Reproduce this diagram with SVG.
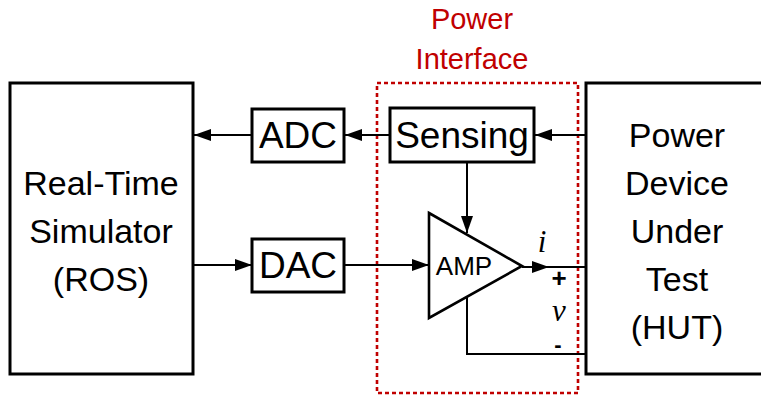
<svg xmlns="http://www.w3.org/2000/svg" width="761" height="396" viewBox="0 0 761 396">
<defs>
<marker id="ah" markerUnits="userSpaceOnUse" markerWidth="18" markerHeight="12" refX="17" refY="6" orient="auto">
<path d="M0,0 L17,6 L0,12 Z" fill="#000"/>
</marker>
<style>
.box{fill:#fff;stroke:#000;stroke-width:3}
.ln{fill:none;stroke:#000;stroke-width:2}
.t{font-family:"Liberation Sans",Arial,sans-serif;fill:#000;text-anchor:middle}
.big{font-size:37px}
.mid{font-size:34px}
.red{font-size:29px;fill:#C00000}
.it{font-family:"Liberation Serif","Times New Roman",serif;font-style:italic;font-size:31px;fill:#000;text-anchor:middle}
</style>
</defs>
<rect width="761" height="396" fill="#fff"/>
<g id="power-interface">
<rect x="377" y="83" width="201" height="310" fill="none" stroke="#C00000" stroke-width="2.6" stroke-dasharray="4 3"/>
<text class="t red" x="472" y="29">Power</text>
<text class="t red" x="472" y="69">Interface</text>
</g>
<g id="rts">
<rect class="box" x="10" y="83" width="183" height="291"/>
<text class="t mid" x="101" y="195">Real-Time</text>
<text class="t mid" x="101" y="243">Simulator</text>
<text class="t mid" x="101" y="291">(ROS)</text>
</g>
<g id="hut">
<rect class="box" x="586" y="83" width="190" height="291"/>
<text class="t mid" x="677" y="147">Power</text>
<text class="t mid" x="677" y="195">Device</text>
<text class="t mid" x="677" y="243">Under</text>
<text class="t mid" x="677" y="291">Test</text>
<text class="t mid" x="677" y="339">(HUT)</text>
</g>
<g id="connectors">
<line class="ln" x1="252" y1="135" x2="194" y2="135" marker-end="url(#ah)"/>
<line class="ln" x1="390" y1="135" x2="345" y2="135" marker-end="url(#ah)"/>
<line class="ln" x1="586" y1="135" x2="535" y2="135" marker-end="url(#ah)"/>
<line class="ln" x1="193" y1="265" x2="252" y2="265" marker-end="url(#ah)"/>
<line class="ln" x1="344" y1="265" x2="429" y2="265" marker-end="url(#ah)"/>
<line class="ln" x1="467" y1="162" x2="467" y2="233" marker-end="url(#ah)"/>
<line class="ln" x1="522" y1="267" x2="549" y2="267" marker-end="url(#ah)"/>
<line class="ln" x1="540" y1="267" x2="586" y2="267"/>
<polyline class="ln" points="467,297 467,354 586,354"/>
</g>
<g id="adc">
<rect class="box" x="252" y="109" width="92" height="53"/>
<text class="t big" x="298" y="148">ADC</text>
</g>
<g id="dac">
<rect class="box" x="252" y="239" width="92" height="53"/>
<text class="t big" x="298" y="278">DAC</text>
</g>
<g id="sensing">
<rect class="box" x="390" y="108" width="144" height="54"/>
<text class="t big" x="462" y="148">Sensing</text>
</g>
<g id="amp">
<polygon points="429,213 522,266 429,318" fill="#fff" stroke="#000" stroke-width="2.6" stroke-linejoin="miter"/>
<text class="t" x="464" y="275" font-size="26">AMP</text>
</g>
<g id="labels">
<text class="it" x="542" y="252">i</text>
<text class="t" x="559" y="287" font-size="26" font-weight="bold">+</text>
<text class="it" x="559" y="321">v</text>
<text class="t" x="558" y="352" font-size="22" font-weight="bold">-</text>
</g>
</svg>
